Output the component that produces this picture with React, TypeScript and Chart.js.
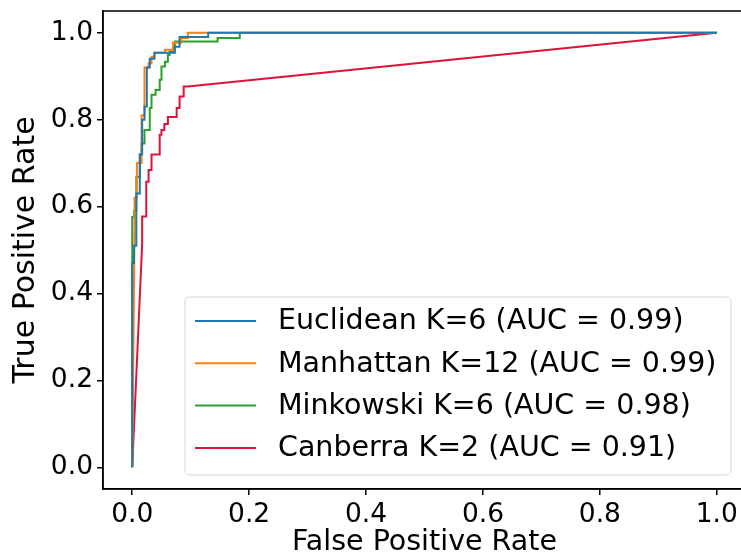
import React, { useEffect, useRef } from "react";
import { Chart, registerables } from "chart.js";

Chart.register(...registerables);

const seriesLabels = [
  "Euclidean K=6 (AUC = 0.99)",
  "Manhattan K=12 (AUC = 0.99)",
  "Minkowski K=6 (AUC = 0.98)",
  "Canberra K=2 (AUC = 0.91)",
];
const seriesColors = ["#1f77b4", "#ff7f0e", "#2ca02c", "#dc143c"];

const euclideanFpr = [0, 0, 0.003, 0.003, 0.007, 0.007, 0.013, 0.013, 0.017, 0.017, 0.021, 0.021, 0.025, 0.025, 0.03, 0.03, 0.038, 0.038, 0.073, 0.073, 0.081, 0.081, 0.13, 0.13, 1.0];
const euclideanTpr = [0, 0.47, 0.47, 0.51, 0.51, 0.63, 0.63, 0.72, 0.72, 0.8, 0.8, 0.83, 0.83, 0.92, 0.92, 0.94, 0.94, 0.954, 0.954, 0.968, 0.968, 0.99, 0.99, 1.0, 1.0];

const manhattanFpr = [0, 0.004, 0.004, 0.008, 0.008, 0.016, 0.016, 0.021, 0.021, 0.028, 0.028, 0.033, 0.033, 0.038, 0.038, 0.056, 0.056, 0.07, 0.07, 0.084, 0.084, 0.095, 0.095, 1.0];
const manhattanTpr = [0, 0.55, 0.62, 0.62, 0.7, 0.7, 0.81, 0.81, 0.92, 0.92, 0.93, 0.93, 0.945, 0.945, 0.954, 0.954, 0.961, 0.961, 0.977, 0.977, 0.988, 0.988, 1.0, 1.0];

const minkowskiFpr = [0, 0, 0.003, 0.003, 0.007, 0.007, 0.013, 0.013, 0.016, 0.016, 0.021, 0.021, 0.03, 0.03, 0.033, 0.033, 0.04, 0.04, 0.047, 0.047, 0.05, 0.05, 0.056, 0.056, 0.061, 0.061, 0.064, 0.064, 0.07, 0.07, 0.073, 0.073, 0.146, 0.146, 0.184, 0.184, 1.0];
const minkowskiTpr = [0, 0.576, 0.576, 0.59, 0.59, 0.668, 0.668, 0.72, 0.72, 0.745, 0.745, 0.776, 0.776, 0.827, 0.827, 0.857, 0.857, 0.868, 0.868, 0.892, 0.892, 0.922, 0.922, 0.933, 0.933, 0.949, 0.949, 0.957, 0.957, 0.968, 0.968, 0.98, 0.98, 0.988, 0.988, 1.0, 1.0];

const canberraFpr = [0, 0.017, 0.017, 0.024, 0.024, 0.028, 0.028, 0.033, 0.033, 0.047, 0.047, 0.05, 0.05, 0.055, 0.055, 0.061, 0.061, 0.076, 0.076, 0.081, 0.081, 0.088, 0.088, 0.095, 1.0];
const canberraTpr = [0, 0.514, 0.577, 0.577, 0.657, 0.657, 0.684, 0.684, 0.72, 0.72, 0.765, 0.765, 0.776, 0.776, 0.79, 0.79, 0.806, 0.806, 0.827, 0.827, 0.853, 0.853, 0.876, 0.876, 1.0];

const xTickValues = [0, 0.2, 0.4, 0.6, 0.8, 1.0];
const yTickValues = [0, 0.2, 0.4, 0.6, 0.8, 1.0];

const seriesFpr = [euclideanFpr, manhattanFpr, minkowskiFpr, canberraFpr];
const seriesTpr = [euclideanTpr, manhattanTpr, minkowskiTpr, canberraTpr];

const FAMILY = "'DejaVu Sans', sans-serif";
const TICK_FONT = { family: FAMILY, size: 26.5 };
const LEGEND_SIZE = 28.5;
const X_TITLE_FONT = { family: FAMILY, size: 28.5 };
const Y_TITLE_FONT = { family: FAMILY, size: 30 };

const framePlugin = {
  id: "frame",
  afterDatasetsDraw(chart: any) {
    const { ctx, chartArea } = chart;
    ctx.save();
    ctx.strokeStyle = "#000";
    ctx.lineWidth = 1.5;
    ctx.strokeRect(chartArea.left, chartArea.top, chartArea.right - chartArea.left, chartArea.bottom - chartArea.top);
    ctx.restore();
  },
};

const legendPlugin = {
  id: "innerLegend",
  afterDraw(chart: any) {
    const { ctx, chartArea } = chart;
    const right = chartArea.right - 15;
    const bottom = chartArea.bottom - 14;
    const left = chartArea.left + 82;
    const top = bottom - 178;
    const r = 5;
    ctx.save();
    ctx.beginPath();
    ctx.moveTo(left + r, top);
    ctx.lineTo(right - r, top);
    ctx.quadraticCurveTo(right, top, right, top + r);
    ctx.lineTo(right, bottom - r);
    ctx.quadraticCurveTo(right, bottom, right - r, bottom);
    ctx.lineTo(left + r, bottom);
    ctx.quadraticCurveTo(left, bottom, left, bottom - r);
    ctx.lineTo(left, top + r);
    ctx.quadraticCurveTo(left, top, left + r, top);
    ctx.closePath();
    ctx.fillStyle = "rgba(255,255,255,0.8)";
    ctx.fill();
    ctx.strokeStyle = "#d6d6d6";
    ctx.lineWidth = 1;
    ctx.stroke();
    ctx.font = `${LEGEND_SIZE}px ${FAMILY}`;
    ctx.textBaseline = "middle";
    ctx.textAlign = "left";
    seriesLabels.forEach((label, i) => {
      const y = top + 24 + i * 42.3;
      ctx.strokeStyle = seriesColors[i];
      ctx.lineWidth = 2;
      ctx.beginPath();
      ctx.moveTo(left + 10, y);
      ctx.lineTo(left + 71, y);
      ctx.stroke();
      ctx.fillStyle = "#000";
      ctx.fillText(label, left + 93, y + 1);
    });
    ctx.restore();
  },
};

export default function App() {
  const ref = useRef<HTMLCanvasElement | null>(null);
  useEffect(() => {
    if (!ref.current) return;
    const datasets = seriesLabels.map((label, i) => ({
      label,
      data: seriesFpr[i].map((x, j) => ({ x, y: seriesTpr[i][j] })),
      borderColor: seriesColors[i],
      backgroundColor: seriesColors[i],
      borderWidth: 2,
      pointRadius: 0,
      fill: false,
      tension: 0,
    }));
    const chart = new Chart(ref.current, {
      type: "line",
      data: { datasets },
      plugins: [framePlugin, legendPlugin],
      options: {
        animation: false,
        responsive: false,
        devicePixelRatio: 1,
        parsing: false as any,
        layout: { padding: { top: 11, right: 14, left: 0, bottom: 0 } },
        plugins: { legend: { display: false }, tooltip: { enabled: false } },
        scales: {
          x: {
            type: "linear",
            min: -0.05,
            max: 1.05,
            afterBuildTicks: (s: any) => {
              s.ticks = xTickValues.map((v) => ({ value: v }));
            },
            afterFit: (s: any) => {
              s.height = 71;
              s.paddingLeft = 0;
              s.paddingRight = 0;
            },
            ticks: {
              callback: (v: any) => Number(v).toFixed(1),
              font: TICK_FONT,
              color: "#000",
              padding: 4,
              maxRotation: 0,
              autoSkip: false,
            },
            grid: { display: true, drawOnChartArea: false, drawTicks: true, tickLength: 6, color: "#000", lineWidth: 1.5 },
            border: { display: true, color: "#000", width: 1.5 },
            title: { display: true, text: "False Positive Rate", font: X_TITLE_FONT, color: "#000", padding: { top: 0, bottom: 0 } },
          },
          y: {
            type: "linear",
            min: -0.05,
            max: 1.05,
            afterBuildTicks: (s: any) => {
              s.ticks = yTickValues.map((v) => ({ value: v }));
            },
            afterFit: (s: any) => {
              s.width = 103;
              s.paddingTop = 0;
              s.paddingBottom = 0;
            },
            ticks: {
              callback: (v: any) => Number(v).toFixed(1),
              font: TICK_FONT,
              color: "#000",
              padding: 4,
              autoSkip: false,
            },
            grid: { display: true, drawOnChartArea: false, drawTicks: true, tickLength: 6, color: "#000", lineWidth: 1.5 },
            border: { display: true, color: "#000", width: 1.5 },
            title: { display: true, text: "True Positive Rate", font: Y_TITLE_FONT, color: "#000", padding: { top: 8, bottom: 0 } },
          },
        },
      },
    });
    return () => chart.destroy();
  }, []);
  return (
    <div style={{ position: "fixed", left: 0, top: 0, width: 741, height: 560, overflow: "hidden", background: "#fff" }}>
      <canvas ref={ref} width={760} height={560} style={{ width: 760, height: 560, display: "block" }} />
    </div>
  );
}
